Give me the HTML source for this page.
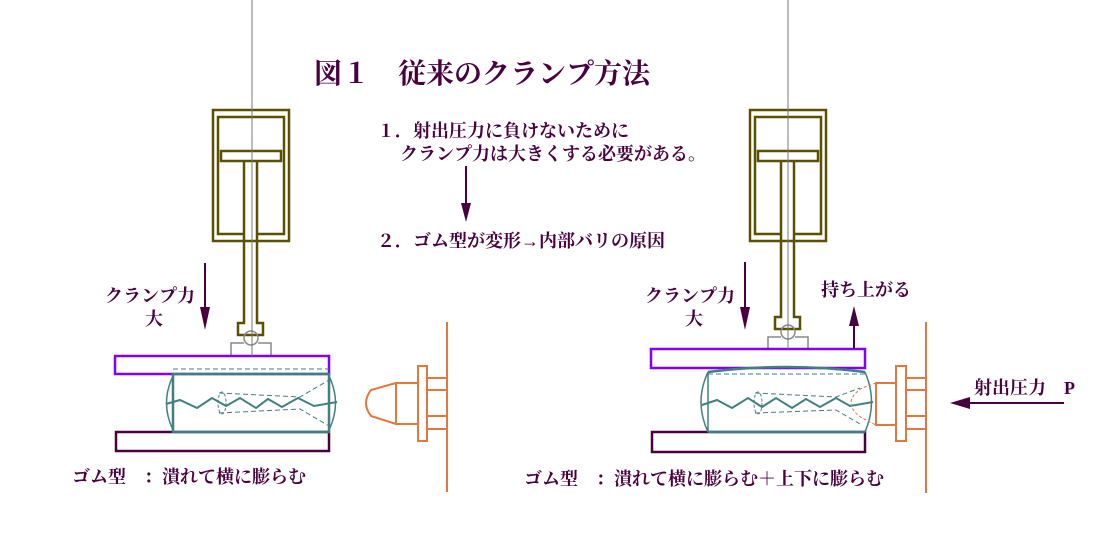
<!DOCTYPE html>
<html><head><meta charset="utf-8"><style>
html,body{margin:0;padding:0;background:#fff}
svg{display:block}
text{font-family:"Liberation Serif","Noto Serif CJK SC","Noto Sans CJK JP",serif;fill:#4a0040;font-weight:bold}
</style></head><body>
<svg width="1119" height="540" viewBox="0 0 1119 540" xmlns="http://www.w3.org/2000/svg">
<text x="314" y="83" font-size="28">図１　従来のクランプ方法</text>
<text x="377" y="137" font-size="18">１．射出圧力に負けないために</text>
<text x="400" y="160" font-size="18">クランプ力は大きくする必要がある。</text>
<line x1="466" y1="166" x2="466" y2="210" stroke="#4a0040" stroke-width="2"/>
<polygon points="461,203 471,203 466,222" fill="#4a0040"/>
<text x="377" y="247" font-size="18">２．ゴム型が変形→内部バリの原因</text>

<!-- LEFT -->
<g fill="none" stroke-width="2.5">
<rect x="213" y="110" width="76" height="131" stroke="#5a5000"/>
<path d="M244,234 H218 V117 H284 V234 H257" stroke="#5a5000"/>
<rect x="221" y="151" width="60" height="10" stroke="#5a5000"/>
<path d="M244,161 V323 H238 V335 H263 V323 H257 V161" stroke="#5a5000"/>
<circle cx="251" cy="338" r="7" stroke="#888" stroke-width="1.5"/>
<path d="M231,355 V343 H244 M258,343 H271 V355" stroke="#888" stroke-width="1.5"/>
<rect x="115" y="356" width="214" height="18" stroke="#8000ff"/>
<rect x="116" y="432" width="213" height="19" stroke="#4a0040"/>
<rect x="173" y="374" width="156" height="58" stroke="#408080"/>
<path d="M173,376 Q160,403 173,430 M329,376 Q342,403 329,430" stroke="#408080" stroke-width="1.5"/>
<polyline points="166,404 180,400 197,408 212,398 226,406 240,398 256,408 268,399 282,407 298,398 314,406 337,402" stroke="#408080" stroke-width="2"/>
<path d="M173,369 H329 M219,393 L300,397 L329,380 M219,413 L300,409 L329,426 M173,374 V432" stroke="#408080" stroke-width="1" stroke-dasharray="5,3"/>
<ellipse cx="222" cy="403" rx="4" ry="11" stroke="#408080" stroke-width="1" stroke-dasharray="3,2"/>
<g stroke="#e07840" stroke-width="2">
<line x1="447" y1="322" x2="447" y2="492"/>
<path d="M396,383 L371,390 Q361,403 371,416 L396,424 Z"/>
<rect x="396" y="383" width="22" height="41"/>
<rect x="418" y="366" width="9" height="75"/>
<rect x="427" y="378" width="20" height="12"/>
<rect x="427" y="390" width="20" height="26"/>
<rect x="427" y="416" width="20" height="13"/>
</g>
</g>
<line x1="252" y1="0" x2="252" y2="356" stroke="#777" stroke-width="1"/>
<line x1="205" y1="263" x2="205" y2="312" stroke="#4a0040" stroke-width="2"/>
<polygon points="200,307 210,307 205,330" fill="#4a0040"/>
<text x="105" y="302" font-size="18">クランプ力</text>
<text x="145" y="325" font-size="18">大</text>
<text x="72" y="483" font-size="18">ゴム型　：潰れて横に膨らむ</text>

<!-- RIGHT -->
<g fill="none" stroke-width="2.5">
<rect x="750" y="110" width="76" height="131" stroke="#5a5000"/>
<path d="M781,234 H755 V117 H821 V234 H794" stroke="#5a5000"/>
<rect x="758" y="151" width="60" height="10" stroke="#5a5000"/>
<path d="M781,161 V317 H775 V329 H800 V317 H794 V161" stroke="#5a5000"/>
<circle cx="788" cy="332" r="7" stroke="#888" stroke-width="1.5"/>
<path d="M768,349 V337 H781 M795,337 H808 V349" stroke="#888" stroke-width="1.5"/>
<rect x="651" y="349" width="214" height="19" stroke="#8000ff"/>
<rect x="652" y="432" width="213" height="20" stroke="#4a0040"/>
<path d="M708,372 Q787,362 865,372 M708,432 H865" stroke="#408080"/>
<path d="M708,372 Q694,402 708,432 M865,372 Q878,402 865,432 M708,372 V432" stroke="#408080" stroke-width="1.5"/>
<polyline points="702,405 717,400 732,408 748,398 762,407 776,398 792,408 806,399 820,407 836,398 850,406 873,402" stroke="#408080" stroke-width="2"/>
<path d="M708,374 H865 M755,393 L836,397 L860,388 M755,413 L836,410 L860,424" stroke="#408080" stroke-width="1" stroke-dasharray="5,3"/>
<ellipse cx="758" cy="403" rx="4" ry="11" stroke="#408080" stroke-width="1" stroke-dasharray="3,2"/>
<g stroke="#e07840" stroke-width="2">
<line x1="926" y1="322" x2="926" y2="493"/>
<path d="M876,383 L862,388 Q840,403 862,418 L876,425" stroke-dasharray="3,2" stroke-width="1"/>
<rect x="876" y="383" width="20" height="42"/>
<rect x="896" y="366" width="10" height="75"/>
<rect x="906" y="378" width="20" height="12"/>
<rect x="906" y="390" width="20" height="26"/>
<rect x="906" y="416" width="20" height="13"/>
</g>
</g>
<line x1="788" y1="0" x2="788" y2="349" stroke="#777" stroke-width="1"/>
<line x1="745" y1="262" x2="745" y2="312" stroke="#4a0040" stroke-width="2"/>
<polygon points="740,307 750,307 745,330" fill="#4a0040"/>
<line x1="854" y1="349" x2="854" y2="322" stroke="#4a0040" stroke-width="2"/>
<polygon points="849,326 859,326 854,306" fill="#4a0040"/>
<text x="645" y="302" font-size="18">クランプ力</text>
<text x="685" y="325" font-size="18">大</text>
<text x="821" y="296" font-size="18">持ち上がる</text>
<line x1="962" y1="403" x2="1064" y2="403" stroke="#4a0040" stroke-width="2"/>
<polygon points="950,403 970,397 970,409" fill="#4a0040"/>
<text x="974" y="394" font-size="18">射出圧力　P</text>
<text x="524" y="485" font-size="18">ゴム型　：潰れて横に膨らむ＋上下に膨らむ</text>
</svg>
</body></html>
